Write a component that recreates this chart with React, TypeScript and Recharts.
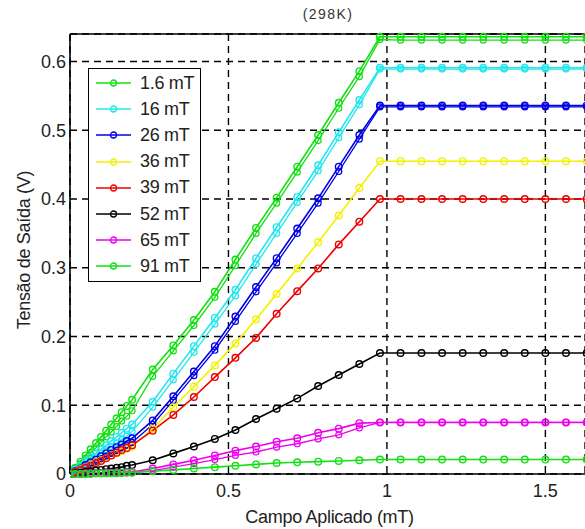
import React from "react";
import {
  LineChart,
  Line,
  XAxis,
  YAxis,
  CartesianGrid,
  ReferenceLine,
} from "recharts";

// campo aplicado (mT): dense sweep below 0.2, then 1.5/23 steps
const X = [
  0, 0.016, 0.033, 0.049, 0.065, 0.082, 0.098, 0.114, 0.13, 0.147, 0.163, 0.179, 0.196,
  0.261, 0.326, 0.391, 0.457, 0.522, 0.587, 0.652, 0.717, 0.783, 0.848, 0.913, 0.978,
  1.043, 1.109, 1.174, 1.239, 1.304, 1.37, 1.435, 1.5, 1.565, 1.63,
];

// tensão de saída (V), ida / volta
const G16 = [
  0, 0.009, 0.018, 0.027, 0.036, 0.045, 0.054, 0.063, 0.072, 0.081, 0.09, 0.099, 0.108,
  0.152, 0.187, 0.224, 0.265, 0.312, 0.358, 0.402, 0.447, 0.493, 0.54, 0.586, 0.636,
  0.636, 0.636, 0.636, 0.636, 0.636, 0.636, 0.636, 0.636, 0.636, 0.636,
];
const G16R = [
  0, 0.008, 0.015, 0.023, 0.031, 0.038, 0.046, 0.054, 0.061, 0.069, 0.077, 0.084, 0.092,
  0.142, 0.179, 0.216, 0.257, 0.303, 0.35, 0.394, 0.439, 0.485, 0.532, 0.578, 0.632,
  0.631, 0.631, 0.631, 0.631, 0.631, 0.631, 0.631, 0.631, 0.631, 0.631,
];
const C16 = [
  0, 0.006, 0.012, 0.018, 0.024, 0.03, 0.036, 0.042, 0.048, 0.054, 0.06, 0.066, 0.072,
  0.105, 0.146, 0.186, 0.227, 0.268, 0.314, 0.359, 0.403, 0.449, 0.497, 0.544, 0.591,
  0.591, 0.591, 0.591, 0.591, 0.591, 0.591, 0.591, 0.591, 0.591, 0.591,
];
const C16R = [
  0, 0.005, 0.01, 0.015, 0.02, 0.025, 0.03, 0.035, 0.04, 0.045, 0.05, 0.055, 0.062,
  0.097, 0.137, 0.177, 0.218, 0.259, 0.305, 0.35, 0.395, 0.441, 0.489, 0.537, 0.589,
  0.589, 0.589, 0.589, 0.589, 0.589, 0.589, 0.589, 0.589, 0.589, 0.589,
];
const B26 = [
  0, 0.004, 0.008, 0.013, 0.017, 0.021, 0.026, 0.03, 0.035, 0.039, 0.043, 0.048, 0.052,
  0.078, 0.113, 0.149, 0.186, 0.229, 0.272, 0.314, 0.357, 0.401, 0.447, 0.493, 0.536,
  0.536, 0.536, 0.536, 0.536, 0.536, 0.536, 0.536, 0.536, 0.536, 0.536,
];
const B26R = [
  0, 0.003, 0.007, 0.011, 0.014, 0.018, 0.022, 0.026, 0.03, 0.034, 0.038, 0.042, 0.046,
  0.072, 0.107, 0.143, 0.18, 0.222, 0.265, 0.307, 0.35, 0.394, 0.44, 0.487, 0.534,
  0.534, 0.534, 0.534, 0.534, 0.534, 0.534, 0.534, 0.534, 0.534, 0.534,
];
const Y36 = [
  0, 0.003, 0.007, 0.01, 0.013, 0.017, 0.02, 0.023, 0.027, 0.03, 0.033, 0.037, 0.04,
  0.066, 0.097, 0.127, 0.158, 0.19, 0.225, 0.262, 0.299, 0.337, 0.376, 0.416, 0.455,
  0.455, 0.455, 0.455, 0.455, 0.455, 0.455, 0.455, 0.455, 0.455, 0.455,
];
const R39 = [
  0, 0.003, 0.006, 0.009, 0.012, 0.016, 0.019, 0.023, 0.027, 0.031, 0.035, 0.038, 0.042,
  0.063, 0.086, 0.112, 0.141, 0.169, 0.198, 0.233, 0.266, 0.299, 0.334, 0.367, 0.4,
  0.4, 0.4, 0.4, 0.4, 0.4, 0.4, 0.4, 0.4, 0.4, 0.4,
];
const K52 = [
  0, 0.001, 0.002, 0.003, 0.004, 0.005, 0.006, 0.007, 0.008, 0.009, 0.01, 0.012, 0.013,
  0.02, 0.03, 0.04, 0.051, 0.064, 0.08, 0.095, 0.11, 0.128, 0.144, 0.16, 0.176,
  0.176, 0.176, 0.176, 0.176, 0.176, 0.176, 0.176, 0.176, 0.176, 0.176,
];
const M65 = [
  0, 0, 0, 0.001, 0.001, 0.001, 0.001, 0.002, 0.002, 0.002, 0.002, 0.003, 0.003,
  0.008, 0.014, 0.02, 0.027, 0.034, 0.04, 0.047, 0.052, 0.06, 0.066, 0.074, 0.075,
  0.075, 0.075, 0.075, 0.075, 0.075, 0.075, 0.075, 0.075, 0.075, 0.075,
];
const M65R = [
  0, 0, 0, 0, 0.001, 0.001, 0.001, 0.001, 0.001, 0.002, 0.002, 0.002, 0.002,
  0.005, 0.01, 0.015, 0.021, 0.027, 0.032, 0.039, 0.044, 0.051, 0.057, 0.067, 0.075,
  0.075, 0.075, 0.075, 0.075, 0.075, 0.075, 0.075, 0.075, 0.075, 0.075,
];
const G91 = [
  0, 0, 0, 0, 0, 0.001, 0.001, 0.001, 0.001, 0.001, 0.002, 0.002, 0.002,
  0.004, 0.006, 0.008, 0.01, 0.012, 0.014, 0.016, 0.017, 0.018, 0.019, 0.02, 0.021,
  0.021, 0.021, 0.021, 0.021, 0.021, 0.021, 0.021, 0.021, 0.021, 0.021,
];

const X_TICKS = [0, 0.5, 1, 1.5];
const Y_TICKS = [0, 0.1, 0.2, 0.3, 0.4, 0.5, 0.6];

const GREEN = "#12e012";
const SERIES = [
  { key: "g16", name: "1.6 mT", color: GREEN, values: G16, back: G16R },
  { key: "c16", name: "16 mT", color: "#22e6ee", values: C16, back: C16R },
  { key: "b26", name: "26 mT", color: "#0000e6", values: B26, back: B26R },
  { key: "y36", name: "36 mT", color: "#f2f200", values: Y36, back: null },
  { key: "r39", name: "39 mT", color: "#ee0000", values: R39, back: null },
  { key: "k52", name: "52 mT", color: "#000000", values: K52, back: null },
  { key: "m65", name: "65 mT", color: "#ee00ee", values: M65, back: M65R },
  { key: "g91", name: "91 mT", color: GREEN, values: G91, back: null },
];

const FONT = "'Liberation Sans', Arial, sans-serif";

const rows = X.map((x, i) => {
  const row: Record<string, number> = { x };
  SERIES.forEach((s) => {
    row[s.key] = s.values[i];
    if (s.back) row[s.key + "_r"] = s.back[i];
  });
  return row;
});

function LegendBox() {
  return (
    <div
      style={{
        position: "absolute",
        left: 88,
        top: 68,
        width: 111,
        height: 211,
        border: "1.5px solid #000",
        background: "#fff",
        fontFamily: FONT,
        fontSize: 18,
        color: "#222",
        paddingTop: 1,
      }}
    >
      {SERIES.map((s) => (
        <div
          key={s.key}
          style={{ height: 26.2, display: "flex", alignItems: "center" }}
        >
          <svg width={46} height={14} style={{ marginLeft: 5 }}>
            <line x1={2} y1={7} x2={37} y2={7} stroke={s.color} strokeWidth={1.6} />
            <circle cx={19.5} cy={7} r={3} fill="none" stroke={s.color} strokeWidth={1.3} />
          </svg>
          <span style={{ letterSpacing: -0.3 }}>{s.name}</span>
        </div>
      ))}
    </div>
  );
}

export default function App() {
  return (
    <div style={{ position: "absolute", left: 0, top: 0, width: 585, height: 529, background: "#fff" }}>
      <div
        style={{
          position: "absolute",
          left: 278,
          width: 100,
          top: 6,
          textAlign: "center",
          fontFamily: FONT,
          fontSize: 14,
          letterSpacing: 1.4,
          color: "#333",
        }}
      >
        (298K)
      </div>
      <LineChart
        width={585}
        height={529}
        data={rows}
        margin={{ top: 34, right: 0, bottom: 0, left: 0 }}
      >
        <CartesianGrid stroke="#000" strokeDasharray="7 5" strokeWidth={1.4} />
        <XAxis
          type="number"
          dataKey="x"
          domain={[0, 1.625]}
          ticks={X_TICKS}
          allowDataOverflow
          height={55}
          tickLine={false}
          tickSize={0}
          tickMargin={10}
          axisLine={{ stroke: "#000", strokeWidth: 1.6 }}
          tick={{ fontSize: 18, fill: "#222", fontFamily: FONT }}
          label={{
            content: (props: any) => {
              const vb = props.viewBox || { x: 70, y: 474, width: 515, height: 55 };
              return (
                <text
                  x={vb.x + vb.width / 2 + 2}
                  y={vb.y + 49}
                  textAnchor="middle"
                  fontSize={18}
                  fontFamily={FONT}
                  fill="#222"
                  letterSpacing={-0.3}
                >
                  Campo Aplicado (mT)
                </text>
              );
            },
          }}
        />
        <YAxis
          type="number"
          domain={[0, 0.64]}
          ticks={Y_TICKS}
          width={70}
          tickLine={false}
          tickSize={0}
          tickMargin={4}
          axisLine={{ stroke: "#000", strokeWidth: 1.6 }}
          tick={{ fontSize: 18, fill: "#222", fontFamily: FONT }}
          label={{
            content: (props: any) => {
              const vb = props.viewBox || { x: 0, y: 34, width: 70, height: 440 };
              const cx = vb.x + 24;
              const cy = vb.y + vb.height / 2 - 4;
              return (
                <text
                  x={cx}
                  y={cy}
                  transform={`rotate(-90 ${cx} ${cy})`}
                  textAnchor="middle"
                  dominantBaseline="central"
                  fontSize={18}
                  fontFamily={FONT}
                  fill="#222"
                  letterSpacing={-0.3}
                >
                  Tensão de Saída (V)
                </text>
              );
            },
          }}
        />
        <ReferenceLine y={0.64} stroke="#000" strokeWidth={1.6} />
        {SERIES.flatMap((s) => {
          const lines = [
            <Line
              key={s.key}
              type="linear"
              dataKey={s.key}
              name={s.name}
              stroke={s.color}
              strokeWidth={1.6}
              dot={{ r: 3.3, fill: "none", stroke: s.color, strokeWidth: 1.4 }}
              isAnimationActive={false}
            />,
          ];
          if (s.back) {
            lines.unshift(
              <Line
                key={s.key + "_r"}
                type="linear"
                dataKey={s.key + "_r"}
                legendType="none"
                stroke={s.color}
                strokeWidth={1.3}
                dot={{ r: 3, fill: "none", stroke: s.color, strokeWidth: 1.2 }}
                isAnimationActive={false}
              />
            );
          }
          return lines;
        })}
      </LineChart>
      <LegendBox />
    </div>
  );
}
